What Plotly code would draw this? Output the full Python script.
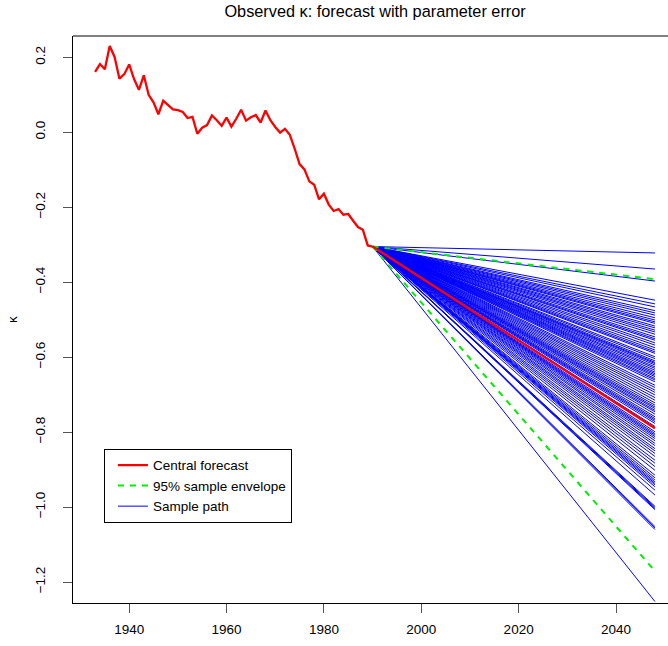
import plotly.graph_objects as go

# Observed kappa, 1933-1990
obs_years = list(range(1933, 1991))
obs_kappa = [0.161, 0.182, 0.168, 0.230, 0.201, 0.143, 0.155, 0.181, 0.142, 0.113,
             0.152, 0.100, 0.080, 0.048, 0.084, 0.072, 0.061, 0.059, 0.054, 0.038,
             0.041, -0.004, 0.012, 0.019, 0.045, 0.032, 0.017, 0.039, 0.015, 0.036,
             0.060, 0.031, 0.040, 0.046, 0.026, 0.058, 0.032, 0.014, -0.001, 0.009,
             -0.007, -0.044, -0.085, -0.099, -0.131, -0.140, -0.179, -0.164, -0.193, -0.210,
             -0.205, -0.220, -0.218, -0.236, -0.253, -0.260, -0.302, -0.305]

fc_years = [1990, 2048]
central_end = -0.790
env_upper_end = -0.392
env_lower_end = -1.171

# End values (2048) of sample paths
path_ends = [-0.322, -0.365, -0.397, -0.448, -0.458, -0.466, -0.476, -0.482, -0.488, -0.495,
             -0.501, -0.506, -0.510, -0.517, -0.522, -0.528, -0.533, -0.539, -0.546, -0.551,
             -0.555, -0.562, -0.568, -0.575, -0.581, -0.586, -0.590, -0.599, -0.604, -0.610,
             -0.614, -0.617, -0.621, -0.626, -0.630, -0.635, -0.640, -0.644, -0.648, -0.652,
             -0.657, -0.661, -0.666, -0.675, -0.681, -0.688, -0.694, -0.701, -0.708, -0.715,
             -0.722, -0.728, -0.733, -0.737, -0.742, -0.746, -0.752, -0.759, -0.764, -0.768,
             -0.772, -0.777, -0.785, -0.799, -0.804, -0.808, -0.812, -0.817, -0.823, -0.830,
             -0.836, -0.844, -0.850, -0.857, -0.865, -0.875, -0.883, -0.892, -0.902, -0.915,
             -0.922, -0.928, -0.933, -0.937, -0.941, -0.946, -0.955, -0.968, -0.998, -1.001,
             -1.004, -1.007, -1.052, -1.056, -1.060, -1.252]

x_ticks = [1940, 1960, 1980, 2000, 2020, 2040]
y_ticks = [0.2, 0.0, -0.2, -0.4, -0.6, -0.8, -1.0, -1.2]
y_tick_text = ["0.2", "0.0", "\u22120.2", "\u22120.4", "\u22120.6", "\u22120.8", "\u22121.0", "\u22121.2"]

start = obs_kappa[-1]
FONT = "Liberation Sans, Arial, Helvetica, sans-serif"

fig = go.Figure()

fig.add_trace(go.Scatter(x=obs_years, y=obs_kappa, mode="lines",
                         line=dict(color="#ff0000", width=2.3), showlegend=False,
                         hoverinfo="skip"))

px, py = [], []
for e in path_ends:
    px += [fc_years[0], fc_years[1], None]
    py += [start, e, None]
fig.add_trace(go.Scatter(x=px, y=py, mode="lines", name="Sample path",
                         line=dict(color="#0000ff", width=1), legendrank=3))

for i, e in enumerate([env_upper_end, env_lower_end]):
    fig.add_trace(go.Scatter(x=fc_years, y=[start, e], mode="lines",
                             name="95% sample envelope",
                             line=dict(color="#00ee00", width=2, dash="6px,6px"),
                             showlegend=(i == 0), legendrank=2))

fig.add_trace(go.Scatter(x=fc_years, y=[start, central_end], mode="lines",
                         name="Central forecast", line=dict(color="#ff0000", width=2.3),
                         legendrank=1))

fig.update_layout(
    width=668, height=646,
    margin=dict(l=73, r=0, t=36, b=43),
    paper_bgcolor="white", plot_bgcolor="white",
    font=dict(family=FONT, size=13.5, color="black"),
    title=dict(text="Observed \u03ba: forecast with parameter error",
               x=0.5615, xref="container", xanchor="center",
               y=1 - 11 / 646, yref="container", yanchor="middle",
               font=dict(size=16.3, family=FONT)),
    xaxis=dict(range=[1928.46, 2050.68], tickvals=x_ticks, showgrid=False, zeroline=False,
               showline=True, linecolor="black", linewidth=1, mirror=False,
               ticks="outside", ticklen=9, tickcolor="#555", tickfont=dict(size=13.5),
               ticklabelstandoff=5),
    yaxis=dict(range=[-1.256, 0.2568], tickvals=y_ticks, ticktext=y_tick_text,
               showgrid=False, zeroline=False,
               showline=True, linecolor="black", linewidth=1,
               ticks="outside", ticklen=9, tickcolor="#555", tickangle=-90,
               tickfont=dict(size=13.5), ticklabelstandoff=13,
               title=dict(text="\u03ba", standoff=11, font=dict(size=13.5))),
    legend=dict(x=0.052, y=0.272, xanchor="left", yanchor="top",
                bordercolor="black", borderwidth=1, bgcolor="white",
                font=dict(size=13.5), tracegroupgap=0, itemwidth=30,
                indentation=8),
    shapes=[dict(type="line", xref="paper", yref="paper", x0=0, x1=1, y0=1, y1=1,
                 line=dict(color="black", width=1))],
    showlegend=True,
)

fig.write_html("out.html", config={"displayModeBar": False},
               post_script="document.body.style.margin='0';")
